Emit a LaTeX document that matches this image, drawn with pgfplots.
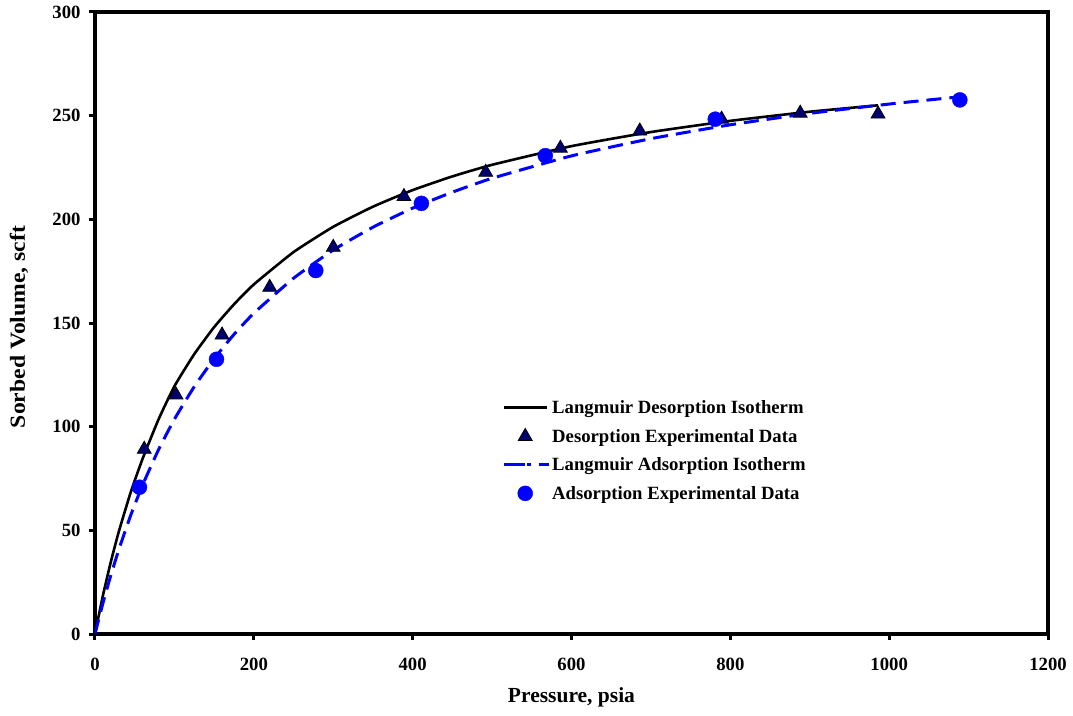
\documentclass[border=0pt]{standalone}
\usepackage{fontspec}
\setmainfont{Liberation Serif}
\usepackage{pgfplots}
\pgfplotsset{compat=1.18}
\definecolor{navy}{RGB}{0,0,110}
\definecolor{pblue}{RGB}{0,0,255}
\pgfplotsset{
  lineleg/.style={legend image code/.code={\draw[##1, line width=3pt] (0pt,0pt) -- (43pt,0pt);}},
  dashleg/.style={legend image code/.code={\draw[##1, dash pattern=on 21pt off 2pt on 4pt off 8pt on 12pt] (0pt,0pt) -- (45pt,0pt);}},
  markleg/.style={legend image code/.code={\draw[##1] plot coordinates {(21.5pt,0pt)};}},
}
\begin{document}
\begin{tikzpicture}
\path[use as bounding box] (-95pt,-81pt) rectangle (978pt,634pt);
\begin{axis}[
  scale only axis,
  width=953pt, height=622pt,
  xmin=0, xmax=1200, ymin=0, ymax=300,
  xtick={0,200,...,1200}, ytick={0,50,...,300},
  axis line style={line width=3.5pt, line cap=rect},
  tick align=outside,
  tick pos=left,
  major tick length=6pt,
  every tick/.style={black, line width=3pt},
  /pgf/number format/assume math mode=true,
  /pgf/number format/1000 sep={},
  ticklabel style={font=\bfseries\fontsize{18.7}{21}\selectfont},
  xticklabel style={yshift=-15pt},
  yticklabel style={xshift=-5pt},
  xlabel={Pressure, psia},
  ylabel={Sorbed Volume, scft},
  label style={font=\bfseries\fontsize{21.5}{24}\selectfont},
  xlabel style={at={([yshift=-63pt]axis description cs:0.5,0)}, anchor=center},
  ylabel style={at={([xshift=-76pt,yshift=-4pt]axis description cs:0,0.5)}, anchor=center, xscale=1.1},
  legend style={draw=none, fill=none, font=\bfseries\fontsize{18.7}{21}\selectfont,
    at={(rel axis cs:0.4271,0.3786)}, anchor=north west,
    row sep=10pt, inner sep=0pt,
    nodes={inner sep=2pt, anchor=west}},
  legend cell align=left,
]
% Langmuir desorption isotherm
\addplot[black, line width=2.6pt, smooth, tension=0.3, lineleg]
 coordinates {
 (0,0) (10,18.6) (20,34.9) (30,49.4) (45,68.4) (60,84.6) (80,103.5)
 (100,119.5) (125,135) (150,148) (175,159) (200,168.6) (250,184.2)
 (300,196.4) (350,206.1) (400,214.1) (450,220.7) (500,226.3) (600,235.3)
 (700,242.1) (800,247.5) (900,251.9) (986,255.0)
 };
\addlegendentry{Langmuir Desorption Isotherm}
% desorption data
\addplot[only marks, mark=triangle*, mark size=8pt,
  mark options={fill=navy, draw=black, line width=0.8pt}, markleg]
 coordinates {
 (62,89.1) (102,115.3) (160,144.2) (220,167.2) (300,186.5) (389,211)
 (492,222.7) (586,234.3) (686,242.6) (789,248.3) (888,251.2) (986,250.8)
 };
\addlegendentry{Desorption Experimental Data}
% Langmuir adsorption isotherm
\addplot[pblue, line width=3pt, dash pattern=on 15pt off 8pt, smooth, tension=0.3, dashleg]
 coordinates {
 (0,0) (10,14.9) (20,28.4) (30,40.7) (45,57.3) (60,71.9) (80,88.9)
 (100,103.6) (125,119.3) (150,132.8) (175,144.5) (200,154.7) (250,171.6)
 (300,185.2) (350,196.2) (400,205.4) (450,213.1) (500,219.8) (600,230.6)
 (700,238.9) (800,245.6) (900,251.1) (1000,255.6) (1089,259.1)
 };
\addlegendentry{Langmuir Adsorption Isotherm}
% adsorption data
\addplot[only marks, mark=*, mark size=7.5pt,
  mark options={fill=pblue, draw=pblue}, markleg]
 coordinates {
 (56,70.8) (153,132.5) (278,175.3) (411,207.7) (567,230.7) (781,248.3) (1089,257.6)
 };
\addlegendentry{Adsorption Experimental Data}
\end{axis}
\end{tikzpicture}
\end{document}
